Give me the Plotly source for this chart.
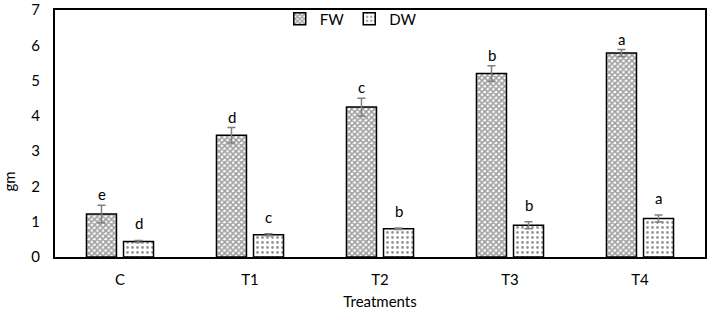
import plotly.graph_objects as go

categories = ["C", "T1", "T2", "T3", "T4"]
fw = [1.22, 3.45, 4.25, 5.2, 5.78]
fw_err = [0.25, 0.22, 0.25, 0.22, 0.1]
dw = [0.44, 0.63, 0.8, 0.9, 1.09]
dw_err = [0.03, 0.03, 0.02, 0.1, 0.1]
fw_letters = ["e", "d", "c", "b", "a"]
dw_letters = ["d", "c", "b", "b", "a"]

font = "Lato"
fig = go.Figure()
fig.add_trace(go.Bar(
    name="FW", x=categories, y=fw,
    error_y=dict(type="data", array=fw_err, color="#808080", thickness=1.5, width=4),
    marker=dict(color="white", line=dict(color="black", width=1.5),
                pattern=dict(shape="x", fgcolor="#404040", bgcolor="white", size=4, solidity=0.65)),
))
fig.add_trace(go.Bar(
    name="DW", x=categories, y=dw,
    error_y=dict(type="data", array=dw_err, color="#808080", thickness=1.5, width=4),
    marker=dict(color="white", line=dict(color="black", width=1.5),
                pattern=dict(shape=".", fgcolor="#303030", bgcolor="white", size=5, solidity=0.25)),
))

for i, c in enumerate(categories):
    fig.add_annotation(x=c, y=fw[i] + fw_err[i], text=fw_letters[i], showarrow=False,
                       xshift=-18.5, yshift=0, yanchor="bottom", font=dict(size=15, color="black", family=font))
    fig.add_annotation(x=c, y=dw[i] + dw_err[i], text=dw_letters[i], showarrow=False,
                       xshift=18.5, yshift=6, yanchor="bottom", font=dict(size=15, color="black", family=font))

fig.add_annotation(xref="paper", yref="paper", x=-0.071, y=0.305, text="gm", textangle=-90,
                   xanchor="center", yanchor="middle",
                   showarrow=False, font=dict(size=15, color="black", family=font))

fig.update_layout(
    width=709, height=310,
    margin=dict(l=55, r=4, t=10, b=53, autoexpand=False),
    paper_bgcolor="white", plot_bgcolor="white",
    barmode="group", bargap=0.43, bargroupgap=0.19,
    font=dict(family=font, size=15, color="black"),
    showlegend=True,
    legend=dict(orientation="h", x=0.455, y=1.03, xanchor="center", yanchor="top",
                bgcolor="rgba(0,0,0,0)", font=dict(size=15), itemwidth=30, tracegroupgap=0),
    xaxis=dict(showline=True, linecolor="black", linewidth=2, mirror=True, automargin=False,
               ticks="outside", ticklen=8, tickcolor="rgba(0,0,0,0)",
               title=dict(text="Treatments", font=dict(size=15), standoff=10),
               tickfont=dict(size=15)),
    yaxis=dict(range=[0, 7.001], dtick=1, showgrid=False, zeroline=False, showline=True,
               linecolor="black", linewidth=2, mirror=True, ticklabeloverflow="allow",
               automargin=False,
               ticks="outside", ticklen=10, tickcolor="rgba(0,0,0,0)", tickfont=dict(size=15)),
)
fig.write_html("out.html", config={"displayModeBar": False},
               post_script="document.body.style.margin='0';")
